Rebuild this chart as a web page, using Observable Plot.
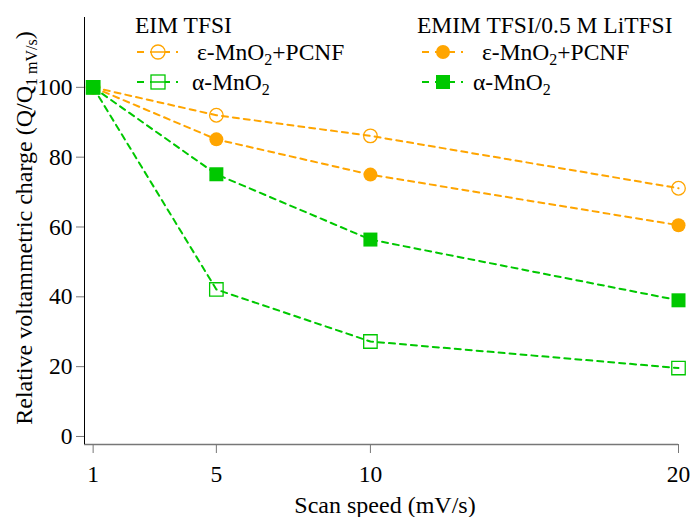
<!DOCTYPE html>
<html>
<head>
<meta charset="utf-8">
<script src="https://cdn.jsdelivr.net/npm/d3@7"></script>
<script src="https://cdn.jsdelivr.net/npm/@observablehq/plot@0.6"></script>
<style>
  html, body { margin: 0; padding: 0; background: white; }
  #chart { width: 692px; height: 517px; }
</style>
</head>
<body>
<div id="chart"></div>
<script>
// Scan speeds (mV/s)
const speeds = [1, 5, 10, 20];
const xTicks = [1, 5, 10, 20];
const yTicks = [0, 20, 40, 60, 80, 100];

// Relative voltammetric charge (%)
const epsEIM   = [100, 92, 86.1, 71.1];   // ε-MnO2+PCNF, EIM TFSI (open circle)
const epsEMIM  = [100, 85.1, 75.0, 60.5]; // ε-MnO2+PCNF, EMIM TFSI/0.5 M LiTFSI (filled circle)
const alphaEIM = [100, 42.1, 27.2, 19.6]; // α-MnO2, EIM TFSI (open square)
const alphaEMIM= [100, 75.1, 56.4, 39.0]; // α-MnO2, EMIM TFSI/0.5 M LiTFSI (filled square)

const ORANGE = "#FFA500";
const GREEN = "#00C800";
const FONT = "'Liberation Serif', 'Times New Roman', serif";

const rows = (vals) => speeds.map((s, i) => ({speed: s, value: vals[i]}));
const dEpsEIM = rows(epsEIM), dEpsEMIM = rows(epsEMIM), dAEIM = rows(alphaEIM), dAEMIM = rows(alphaEMIM);

const xDomain = [0.72, 20];
const yDomain = [-2.3, 120];
const dash = "6,5";

const plot = Plot.plot({
  width: 692,
  height: 517,
  marginLeft: 84,
  marginRight: 14,
  marginTop: 17,
  marginBottom: 73,
  x: {domain: xDomain},
  y: {domain: yDomain},
  style: {fontFamily: FONT, fontSize: "23px", background: "white", overflow: "visible"},
  marks: [
    Plot.ruleY([yDomain[0]], {stroke: "#777", strokeWidth: 1.6}),
    Plot.ruleX([xDomain[0]], {stroke: "black", strokeWidth: 1}),
    Plot.axisX({ticks: xTicks, tickSize: 9, tickPadding: 12, stroke: "#777", fill: "black", fontSize: 23.5, label: null, tickFormat: d => String(d)}),
    Plot.axisY({ticks: yTicks, tickSize: 8, tickPadding: 4, stroke: "#777", fill: "black", fontSize: 23.5, label: null, tickFormat: d => String(d)}),
    Plot.line(dEpsEIM, {x: "speed", y: "value", stroke: ORANGE, strokeWidth: 2, strokeDasharray: dash}),
    Plot.line(dEpsEMIM, {x: "speed", y: "value", stroke: ORANGE, strokeWidth: 2, strokeDasharray: dash}),
    Plot.line(dAEIM, {x: "speed", y: "value", stroke: GREEN, strokeWidth: 2, strokeDasharray: dash}),
    Plot.line(dAEMIM, {x: "speed", y: "value", stroke: GREEN, strokeWidth: 2, strokeDasharray: dash}),
    Plot.dot(dEpsEIM, {x: "speed", y: "value", r: 6.8, stroke: ORANGE, strokeWidth: 1.3, fill: "none"}),
    Plot.dot(dEpsEMIM, {x: "speed", y: "value", r: 7, fill: ORANGE, stroke: "none"}),
    Plot.dot(dAEIM, {x: "speed", y: "value", r: 7.6, symbol: "square", stroke: GREEN, strokeWidth: 1.3, fill: "none"}),
    Plot.dot(dAEMIM, {x: "speed", y: "value", r: 7.9, symbol: "square", fill: GREEN, stroke: "none"})
  ]
});
document.getElementById("chart").appendChild(plot);

// Axis titles and legend (annotation text drawn into the same SVG)
const svg = d3.select(plot);
const g = svg.append("g").attr("font-family", FONT).attr("fill", "black").attr("text-anchor", "start");

g.append("text").attr("x", 385).attr("y", 513).attr("text-anchor", "middle")
  .attr("font-size", 24).text("Scan speed (mV/s)");

const yl = g.append("text").attr("transform", "translate(32,228) rotate(-90)")
  .attr("text-anchor", "middle").attr("font-size", 24);
yl.append("tspan").text("Relative voltammetric charge (Q/Q");
yl.append("tspan").attr("font-size", 16).attr("dy", 5).text("1 mV/s");
yl.append("tspan").attr("dy", -5).text(")");

function legendItem(x0, y, sym, filled, color, label, textX) {
  g.append("line").attr("x1", x0).attr("x2", x0 + 41).attr("y1", y).attr("y2", y)
    .attr("stroke", color).attr("stroke-width", 2).attr("stroke-dasharray", "7,6");
  const cx = x0 + 21;
  if (sym === "circle") {
    g.append("circle").attr("cx", cx).attr("cy", y).attr("r", 7)
      .attr("fill", filled ? color : "white").attr("stroke", color).attr("stroke-width", filled ? 0 : 1.3);
    if (!filled) g.append("line").attr("x1", cx - 7).attr("x2", cx + 7).attr("y1", y).attr("y2", y)
      .attr("stroke", color).attr("stroke-width", 1.5);
  } else {
    g.append("rect").attr("x", cx - 7).attr("y", y - 7).attr("width", 14).attr("height", 14)
      .attr("fill", filled ? color : "white").attr("stroke", color).attr("stroke-width", filled ? 0 : 1.3);
    if (!filled) g.append("line").attr("x1", cx - 7).attr("x2", cx + 7).attr("y1", y).attr("y2", y)
      .attr("stroke", color).attr("stroke-width", 1.5);
  }
  const t = g.append("text").attr("x", textX).attr("y", y + 8).attr("font-size", 23.5).attr("text-anchor", "start");
  t.append("tspan").text(label[0]);
  t.append("tspan").attr("font-size", 16).attr("dy", 5).text("2");
  if (label[1]) t.append("tspan").attr("dy", -5).text(label[1]);
}

g.append("text").attr("x", 135).attr("y", 33).attr("font-size", 23.5).text("EIM TFSI");
g.append("text").attr("x", 417).attr("y", 33).attr("font-size", 23.5).text("EMIM TFSI/0.5 M LiTFSI");
legendItem(137, 52, "circle", false, ORANGE, ["ε-MnO", "+PCNF"], 197);
legendItem(137, 82, "square", false, GREEN, ["α-MnO", ""], 192);
legendItem(422, 52, "circle", true, ORANGE, ["ε-MnO", "+PCNF"], 482);
legendItem(422, 82, "square", true, GREEN, ["α-MnO", ""], 473);
</script>
</body>
</html>
